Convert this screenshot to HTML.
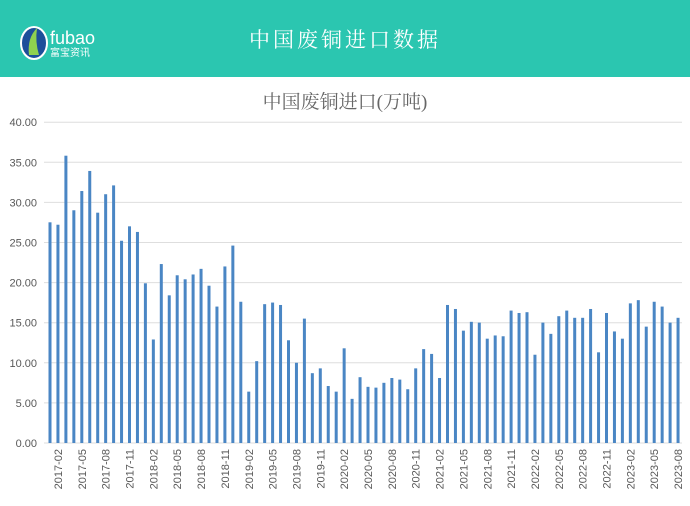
<!DOCTYPE html>
<html><head><meta charset="utf-8"><style>
body{margin:0;width:690px;height:506px;background:#fff;overflow:hidden;font-family:"Liberation Sans","Noto Sans CJK SC",sans-serif}
.hd{position:absolute;left:0;top:0;width:690px;height:77px;background:#2bc6b0}
</style></head><body>
<div class="hd"></div>
<svg width="690" height="506" style="position:absolute;left:0;top:0">
<ellipse cx="34" cy="43" rx="13" ry="16" fill="#1d4f9a" stroke="#fff" stroke-width="2"/>
<path d="M29 55 Q27 38 37 28 Q35 42 39 55Z" fill="#8fd14f"/>
<text x="50" y="44" fill="#fff" font-size="18" font-family="Liberation Sans,sans-serif">fubao</text>
<text x="50" y="56" fill="#fff" font-size="10" font-family="Liberation Sans,Noto Sans CJK SC,sans-serif">富宝资讯</text>
<text x="345" y="47" fill="#fff" font-size="21" text-anchor="middle" letter-spacing="3" font-family="Liberation Serif,Noto Serif CJK SC,serif">中国废铜进口数据</text>
<text x="345" y="108" fill="#666" font-size="19" text-anchor="middle" font-family="Liberation Serif,Noto Serif CJK SC,serif">中国废铜进口(万吨)</text>
<g id="g"></g>
</svg>
<script>
var v=[27.5,27.2,35.8,29.0,31.4,33.9,28.7,31.0,32.1,25.2,27.0,26.3,19.9,12.9,22.3,18.4,20.9,20.4,21.0,21.7,19.6,17.0,22.0,24.6,17.6,6.4,10.2,17.3,17.5,17.2,12.8,10.0,15.5,8.7,9.3,7.1,6.4,11.8,5.5,8.2,7.0,6.9,7.5,8.1,7.9,6.7,9.3,11.7,11.1,8.1,17.2,16.7,14.0,15.1,15.0,13.0,13.4,13.3,16.5,16.2,16.3,11.0,15.0,13.6,15.8,16.5,15.6,15.6,16.7,11.3,16.2,13.9,13.0,17.4,17.8,14.5,17.6,17.0,15.0,15.6];
var s='';
for(var i=0;i<=8;i++){var y=443-i*40.1;s+='<line x1="44" x2="682" y1="'+y+'" y2="'+y+'" stroke="#dedede" stroke-width="1"/>';
s+='<text x="37" y="'+(y+4)+'" font-size="11" fill="#595959" text-anchor="end">'+(i*5).toFixed(2)+'</text>';}
var sx=7.95;
for(var i=0;i<80;i++){var x=50+i*sx,h=v[i]*8.025;s+='<rect x="'+(x-1.5)+'" y="'+(443-h)+'" width="3" height="'+h+'" fill="#4a86c4"/>';}
for(var i=1;i<80;i+=3){var mo=i+1,yr=2017+Math.floor((mo-1)/12),mm=((mo-1)%12)+1;var lab=yr+'-'+(mm<10?'0':'')+mm;var x=50+i*sx+4;
s+='<text transform="translate('+x+',449) rotate(-90)" font-size="11" fill="#595959" text-anchor="end">'+lab+'</text>';}
document.getElementById('g').innerHTML=s;
</script>
</body></html>
